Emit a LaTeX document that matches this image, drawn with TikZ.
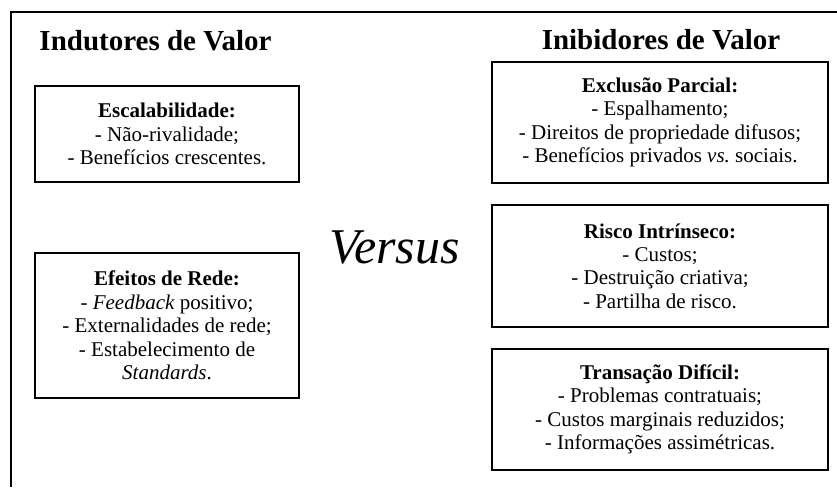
\documentclass[tikz,border=0pt]{standalone}
\usepackage{fontspec}
\setmainfont{Liberation Serif}
\frenchspacing
\begin{document}
\begin{tikzpicture}[x=1pt,y=-1pt,
  frame/.style={line width=1.4pt},
  itembox/.style={draw, line width=1.8pt, align=center, inner sep=0pt,
    font=\fontsize{21}{23.4}\selectfont},
  heading/.style={anchor=base, font=\fontsize{29}{32}\selectfont\bfseries},
  bigword/.style={anchor=base, font=\fontsize{50}{56}\selectfont\itshape}]
\useasboundingbox (0,0) rectangle (837,487);

% open outer frame (top and left sides)
\coordinate (frTR) at (837,12);
\coordinate (frTL) at (11,12);
\coordinate (frBL) at (11,487);
\draw[frame] (frTR) -- (frTL) -- (frBL);

% column headings
\node[heading] (hleft) at (155.5,51) {Indutores de Valor};
\node[heading] (hright) at (661,50) {Inibidores de Valor};

% value drivers
\node[itembox, minimum width=264, minimum height=96] (esc) at (167,134)
  {\textbf{Escalabilidade:}\\- Não-rivalidade;\\- Benefícios crescentes.};
\node[itembox, minimum width=264, minimum height=145] (efe) at (167,325.5)
  {\textbf{Efeitos de Rede:}\\- \textit{Feedback} positivo;\\- Externalidades de rede;\\- Estabelecimento de\\\textit{Standards}.};

% central word
\node[bigword] (versus) at (394.5,263) {Versus};

% value inhibitors
\node[itembox, minimum width=336, minimum height=121] (exc) at (660,122.5)
  {\textbf{Exclusão Parcial:}\\- Espalhamento;\\- Direitos de propriedade difusos;\\- Benefícios privados \textit{vs.} sociais.};
\node[itembox, minimum width=336, minimum height=122] (ris) at (660,266)
  {\textbf{Risco Intrínseco:}\\- Custos;\\- Destruição criativa;\\- Partilha de risco.};
\node[itembox, minimum width=336, minimum height=121] (tra) at (660,409.5)
  {\textbf{Transação Difícil:}\\- Problemas contratuais;\\- Custos marginais reduzidos;\\- Informações assimétricas.};
\end{tikzpicture}
\end{document}
